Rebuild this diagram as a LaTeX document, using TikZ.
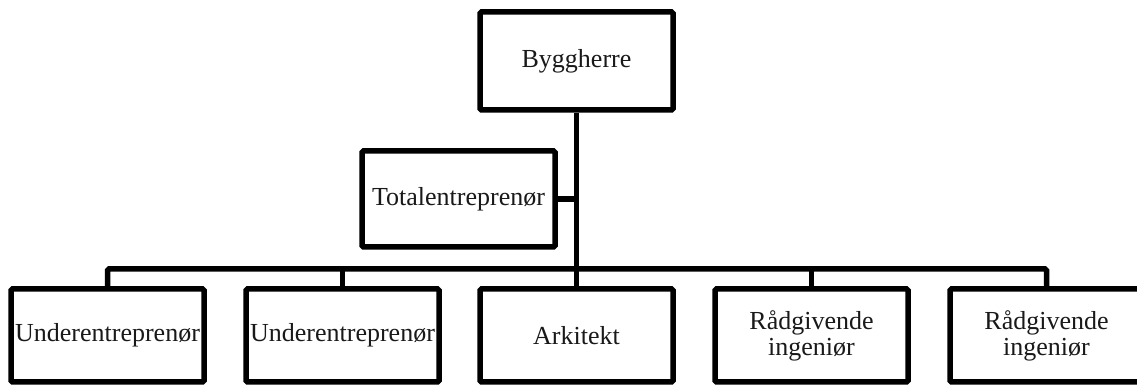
\documentclass[tikz,border=0pt]{standalone}
\usepackage{fontspec}
\setmainfont{Liberation Serif}
\tikzset{
  box/.style={draw=black, line width=5.5pt, rounded corners=1.5pt, fill=white,
    minimum width=193pt, inner sep=0pt, align=center,
    font=\fontsize{26}{26}\selectfont, text=black!90},
  conn/.style={draw=black, line width=5.5pt, line cap=butt}
}
\begin{document}
\begin{tikzpicture}[x=1pt,y=1pt]
\useasboundingbox (0,0) rectangle (1137,385);
\node[box, minimum height=98pt] (b) at (576.5,324) {Byggherre};
\node[box, minimum height=96pt] (t) at (458.5,186) {Totalentreprenør};
\node[box, minimum height=93pt] (u1) at (107.5,49.5) {Underentreprenør};
\node[box, minimum height=93pt] (u2) at (342.5,49.5) {Underentreprenør};
\node[box, minimum height=93pt] (a) at (576.5,49.5) {Arkitekt};
\node[box, minimum height=93pt] (r1) at (811.5,49.5) {Rådgivende\\ingeniør};
\node[box, minimum height=93pt] (r2) at (1046.5,49.5) {Rådgivende\\ingeniør};
\coordinate (busy) at (0,116);
\draw[conn] (b.south) -- (a.north);
\draw[conn] (t.east) -- (t.east -| b.south);
\draw[conn, rounded corners=1.5pt] (u1.north) -- (u1.north |- busy) -- (r2.north |- busy) -- (r2.north);
\draw[conn] (u2.north) -- (u2.north |- busy);
\draw[conn] (r1.north) -- (r1.north |- busy);
\end{tikzpicture}
\end{document}
